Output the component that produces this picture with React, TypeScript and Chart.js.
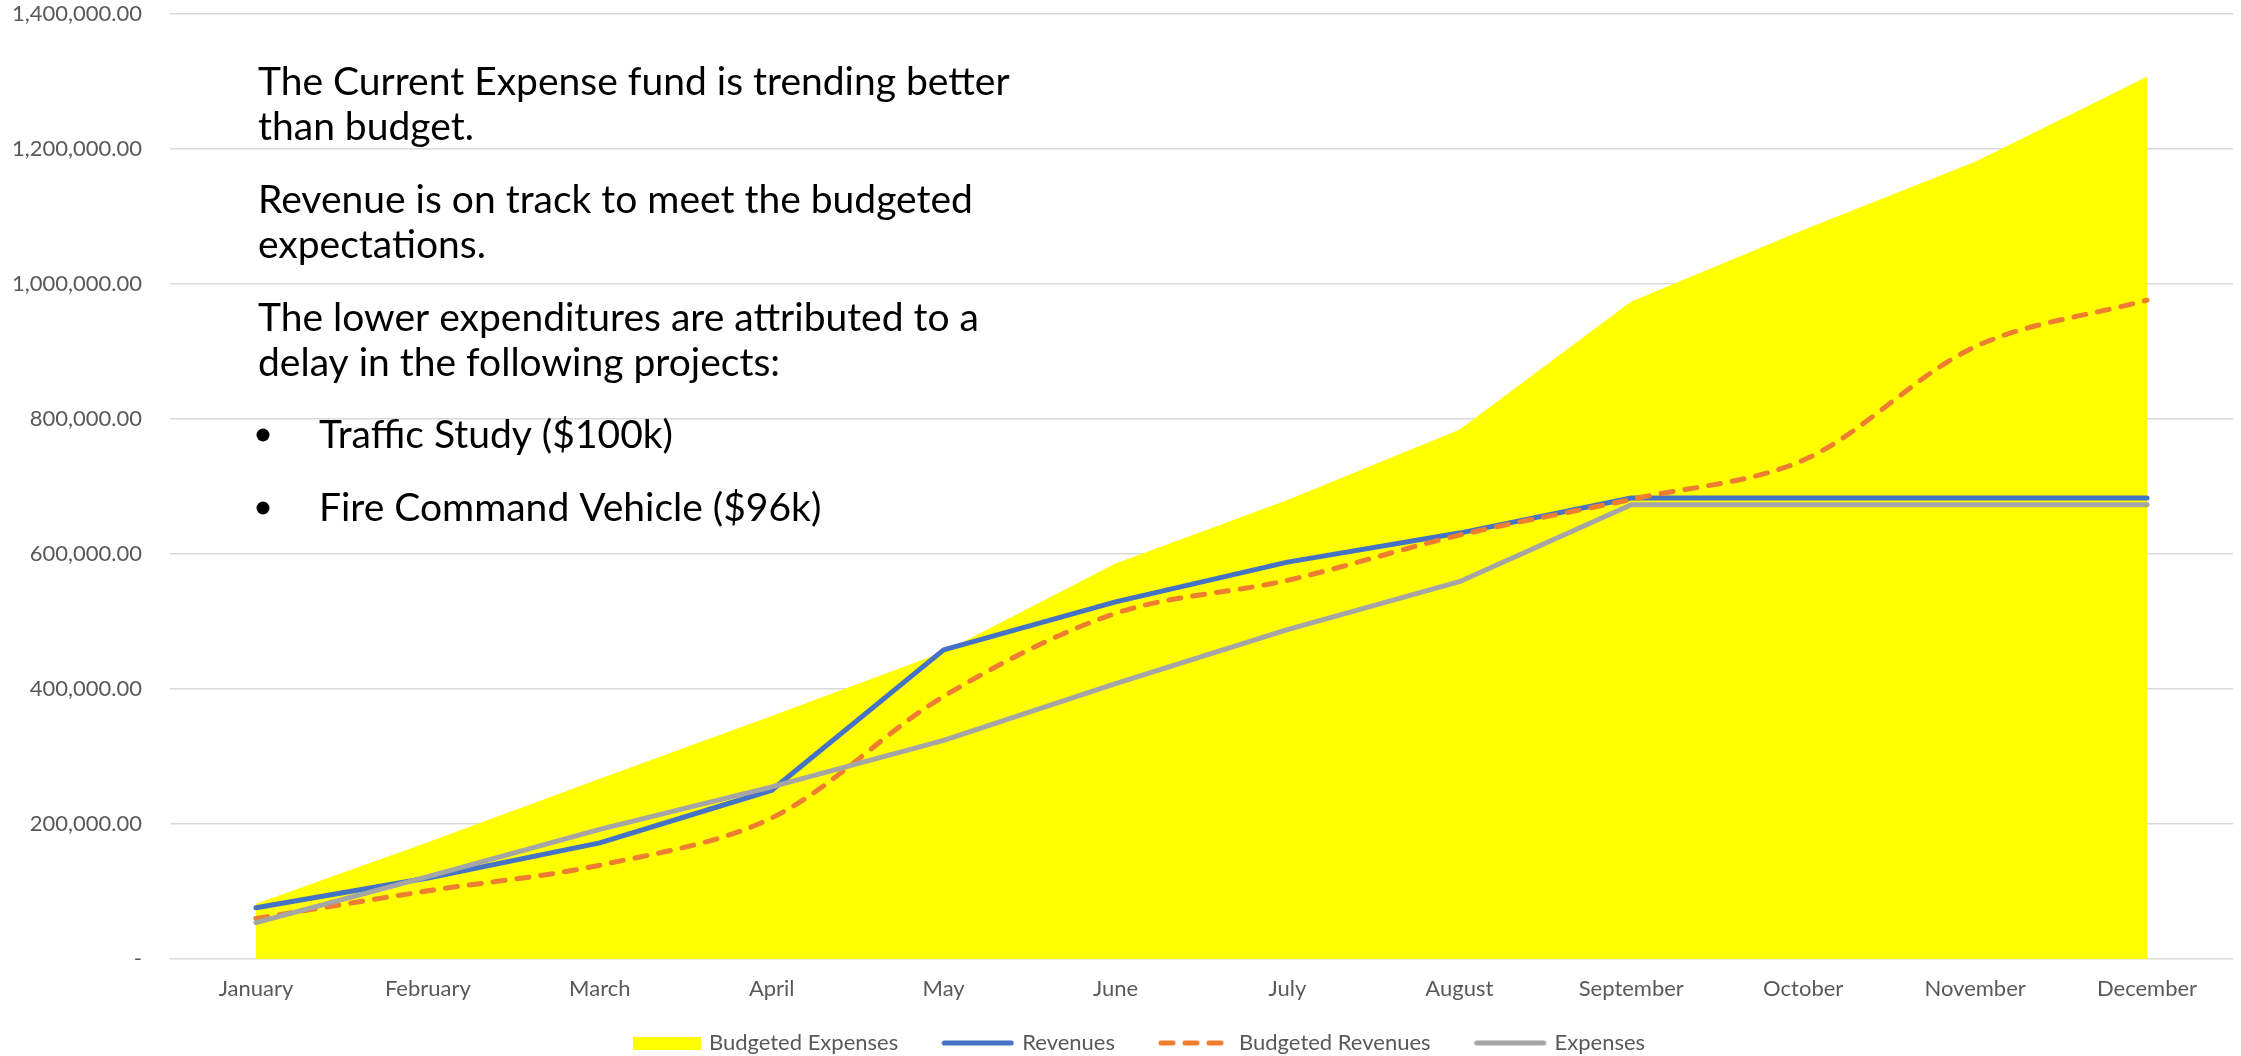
import React, { useEffect, useRef } from 'react';
import { Chart, registerables } from 'chart.js';

Chart.register(...registerables);

// ---------- data ----------
const months = [
  'January', 'February', 'March', 'April', 'May', 'June',
  'July', 'August', 'September', 'October', 'November', 'December',
];
const budgetedExpenses = [82000, 173000, 267000, 360000, 455000, 586000, 680000, 784000, 974000, 1080000, 1181000, 1307000];
const revenues = [76000, 120000, 172000, 250000, 458000, 529000, 588000, 631000, 683000, 683000, 683000, 683000];
const budgetedRevenues = [60000, 101000, 139000, 209000, 389000, 512000, 561000, 628000, 681000, 739000, 907000, 976000];
const expenses = [54000, 122000, 192000, 255000, 324000, 408000, 488000, 559000, 673000, 673000, 673000, 673000];
const yTickLabels = ['-', '200,000.00', '400,000.00', '600,000.00', '800,000.00', '1,000,000.00', '1,200,000.00', '1,400,000.00'];
const seriesNames = ['Budgeted Expenses', 'Revenues', 'Budgeted Revenues', 'Expenses'];
const noteParagraphs = [
  ['The Current Expense fund is trending better', 'than budget.'],
  ['Revenue is on track to meet the budgeted', 'expectations.'],
  ['The lower expenditures are attributed to a', 'delay in the following projects:'],
];
const noteBullets = ['Traffic Study ($100k)', 'Fire Command Vehicle ($96k)'];

// ---------- styles ----------
const YELLOW = '#FFFF00';
const BLUE = '#4472C4';
const ORANGE = '#ED7D31';
const GRAY = '#A5A5A5';
const TEXT_GRAY = '#595959';
const GRID = '#D9D9D9';
const FONT = 'Lato';

const SW_BOX = 110; // legend swatch slot width
const SW_IMG = 116; // swatch image width

function makeSwatch(kind: 'box' | 'line' | 'dash', color: string): HTMLCanvasElement {
  const c = document.createElement('canvas');
  c.width = SW_IMG;
  c.height = 14;
  const g = c.getContext('2d')!;
  if (kind === 'box') {
    g.fillStyle = color;
    g.fillRect(SW_IMG - 68, 1, 68, 13);
  } else {
    g.strokeStyle = color;
    g.lineWidth = 5;
    g.lineCap = 'round';
    if (kind === 'dash') g.setLineDash([12, 12]);
    g.beginPath();
    g.moveTo(SW_IMG - 70, 7);
    g.lineTo(SW_IMG - 3, 7);
    g.stroke();
  }
  return c;
}

const notePlugin = {
  id: 'notePlugin',
  afterDraw(chart: any) {
    const ctx = chart.ctx as CanvasRenderingContext2D;
    ctx.save();
    ctx.fillStyle = '#000000';
    ctx.font = `39px ${FONT}`;
    ctx.textAlign = 'left';
    ctx.textBaseline = 'alphabetic';
    const x0 = 258;
    const lineH = 45;
    const paraH = 73;
    let y = 95;
    noteParagraphs.forEach((para, pi) => {
      para.forEach((line, li) => {
        ctx.fillText(line, x0, y);
        if (li < para.length - 1) y += lineH;
      });
      if (pi < noteParagraphs.length - 1) y += paraH;
    });
    y += 72;
    noteBullets.forEach((b) => {
      ctx.beginPath();
      ctx.arc(x0 + 5, y - 13, 6.5, 0, Math.PI * 2);
      ctx.fill();
      ctx.fillText(b, x0 + 61, y);
      y += 73;
    });
    ctx.restore();
  },
};

export default function App() {
  const ref = useRef<HTMLCanvasElement | null>(null);

  useEffect(() => {
    document.body.style.margin = '0';
    document.body.style.overflow = 'hidden';
    const canvas = ref.current!;
    const swatches = [
      makeSwatch('box', YELLOW),
      makeSwatch('line', BLUE),
      makeSwatch('dash', ORANGE),
      makeSwatch('line', GRAY),
    ];
    const lineCommon = {
      type: 'line' as const,
      fill: false,
      borderWidth: 5,
      pointRadius: 0,
      pointHoverRadius: 0,
      borderCapStyle: 'round' as const,
      borderJoinStyle: 'round' as const,
      tension: 0,
    };
    const chart = new Chart(canvas, {
      type: 'line',
      data: {
        labels: months,
        datasets: [
          {
            label: seriesNames[0],
            data: budgetedExpenses,
            fill: 'origin',
            backgroundColor: YELLOW,
            borderColor: YELLOW,
            borderWidth: 0,
            pointRadius: 0,
            tension: 0,
            order: 4,
          },
          { ...lineCommon, label: seriesNames[1], data: revenues, borderColor: BLUE, backgroundColor: BLUE, order: 3 },
          {
            ...lineCommon,
            label: seriesNames[2],
            data: budgetedRevenues,
            borderColor: ORANGE,
            backgroundColor: ORANGE,
            borderDash: [12, 12],
            tension: 0.33,
            order: 2,
          },
          { ...lineCommon, label: seriesNames[3], data: expenses, borderColor: GRAY, backgroundColor: GRAY, order: 1 },
        ],
      },
      options: {
        responsive: false,
        animation: false,
        devicePixelRatio: 1,
        layout: { padding: { left: 0, right: 8, top: 14, bottom: -8 } },
        plugins: {
          tooltip: { enabled: false },
          legend: {
            position: 'bottom',
            align: 'center',
            labels: {
              usePointStyle: true,
              pointStyleWidth: SW_BOX,
              padding: 3,
              color: TEXT_GRAY,
              font: { family: FONT, size: 22 },
              generateLabels: () =>
                seriesNames.map((name, i) => ({
                  text: name,
                  datasetIndex: i,
                  pointStyle: swatches[i],
                  fillStyle: 'rgba(0,0,0,0)',
                  strokeStyle: 'rgba(0,0,0,0)',
                  lineWidth: 0,
                  hidden: false,
                  fontColor: TEXT_GRAY,
                })),
            },
          },
        },
        scales: {
          x: {
            type: 'category',
            offset: true,
            grid: { display: false, drawTicks: false },
            border: { display: false },
            ticks: {
              color: TEXT_GRAY,
              font: { family: FONT, size: 22 },
              padding: 17,
              maxRotation: 0,
              autoSkip: false,
            },
            afterFit: (scale: any) => {
              scale.height = 70;
              scale.paddingLeft = 0;
              scale.paddingRight = 0;
            },
          },
          y: {
            type: 'linear',
            min: 0,
            max: 1400000,
            grid: { color: GRID, lineWidth: 1.5, drawTicks: false },
            border: { display: false },
            ticks: {
              stepSize: 200000,
              color: TEXT_GRAY,
              font: { family: FONT, size: 22 },
              padding: 28,
              callback: (_v: any, i: number) => yTickLabels[i],
            },
            afterFit: (scale: any) => {
              scale.width = 170;
              scale.paddingTop = 0;
              scale.paddingBottom = 0;
            },
          },
        },
      },
      plugins: [notePlugin],
    });
    return () => chart.destroy();
  }, []);

  return (
    <canvas
      ref={ref}
      width={2241}
      height={1056}
      style={{ display: 'block', width: 2241, height: 1056 }}
    />
  );
}
